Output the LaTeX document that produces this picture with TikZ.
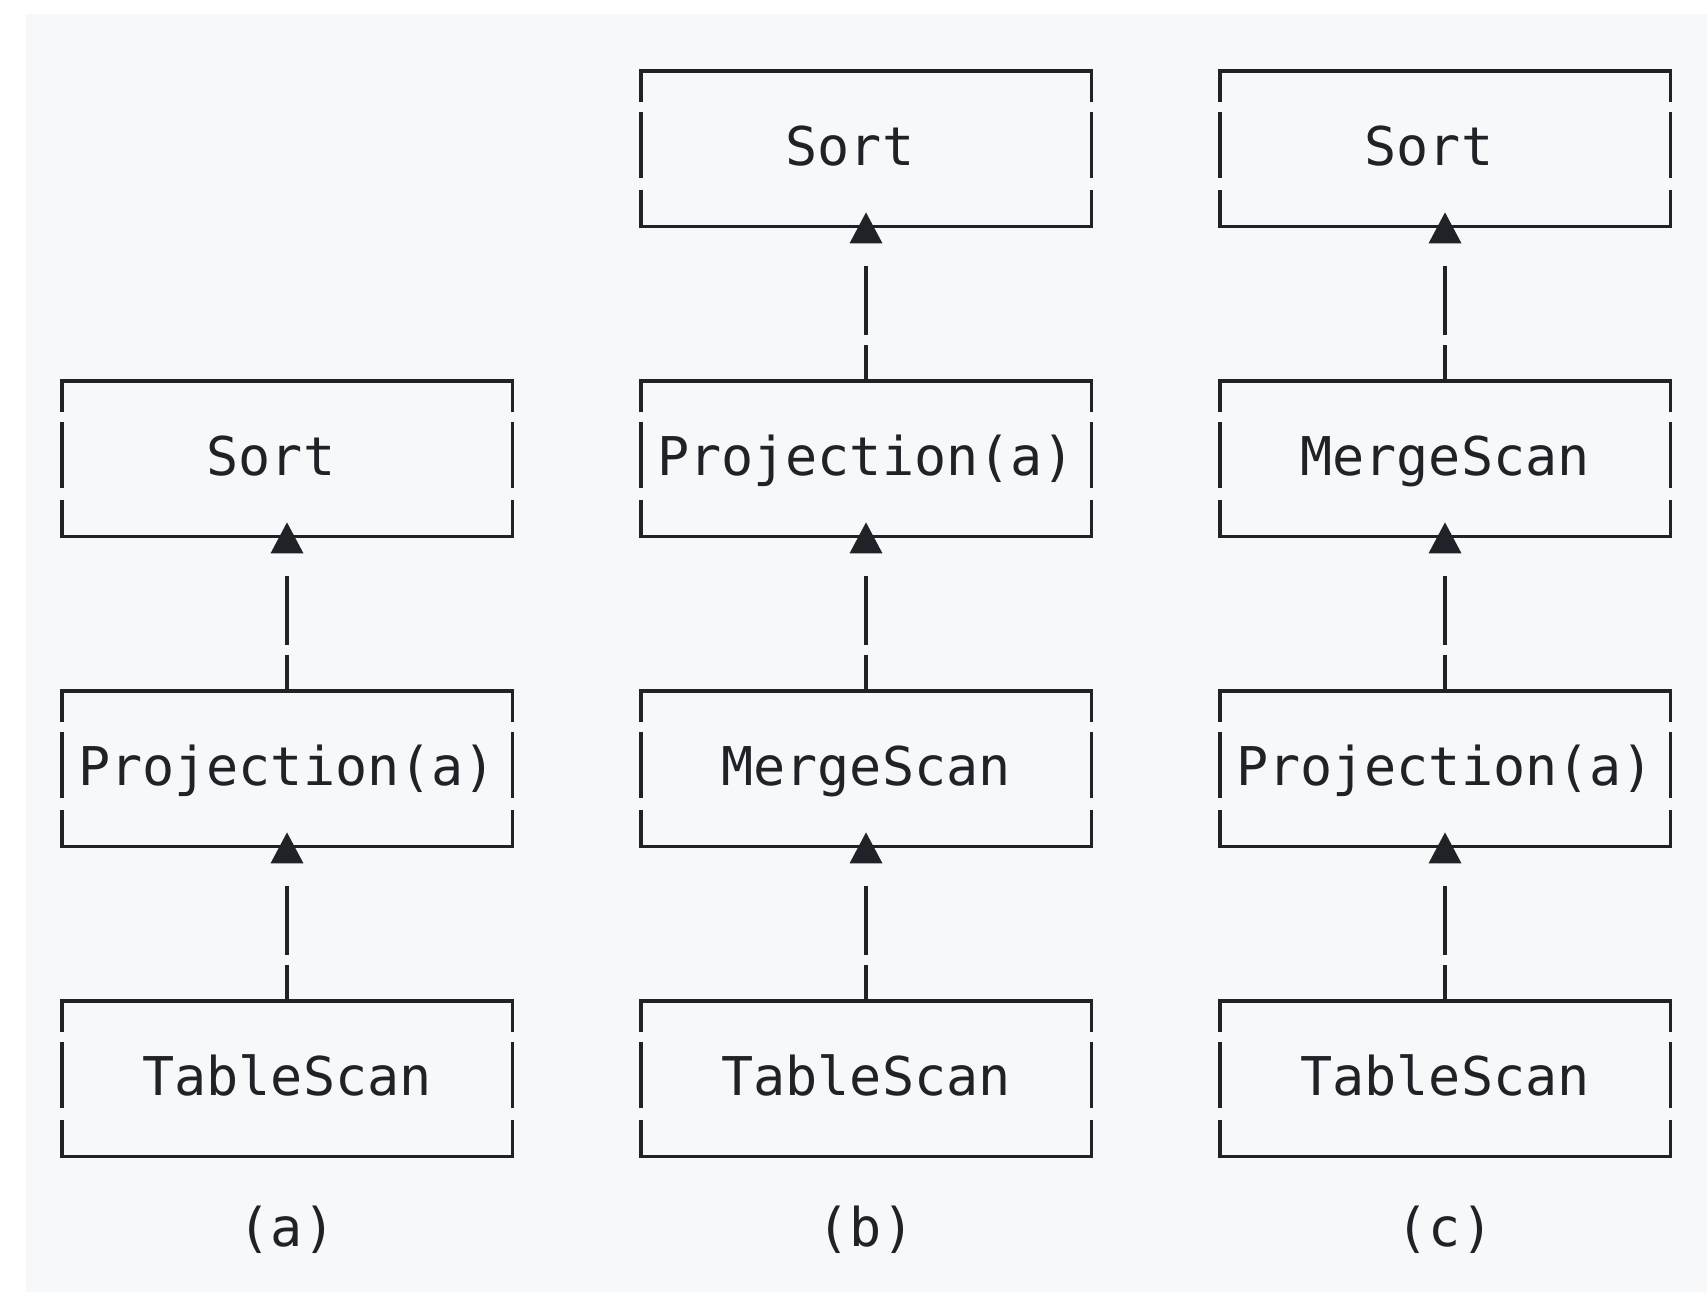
\documentclass[tikz,border=0pt]{standalone}
\usepackage{fontspec}
\setmonofont{DejaVu Sans Mono}
\usetikzlibrary{calc}
\definecolor{ink}{HTML}{1F2328}
\definecolor{bgc}{HTML}{F6F8FA}
\begin{document}
\begin{tikzpicture}[x=0.5pt,y=-0.5pt,
  op/.style={minimum width=225pt,minimum height=77.5pt,inner sep=0pt,
    text height=17pt,text depth=0pt,text=ink,
    font=\ttfamily\fontsize{26.7pt}{32pt}\selectfont},
  caption/.style={inner sep=0pt,anchor=base,text=ink,
    font=\ttfamily\fontsize{26.7pt}{32pt}\selectfont},
  hline/.style={draw=ink,line width=1.9pt,line cap=rect},
  vline/.style={draw=ink,line width=1.9pt,dash pattern=on 15.5pt off 5pt on 33pt off 6pt on 20pt},
  link/.style={draw=ink,line width=1.9pt,dash pattern=on 18pt off 5pt on 60pt},
  tip/.style={fill=ink}
]
\useasboundingbox (0,0) rectangle (1707,1292);
\fill[bgc] (26,14) rectangle (1707,1292);

% column (a)
\node[op] (aS) at (287,458.5) {Sort\hphantom{x}};
\node[op] (aP) at (287,768.5) {Projection(a)};
\node[op] (aT) at (287,1078.5) {TableScan};
\node[caption] (aL) at (287,1246) {(a)};
% column (b)
\node[op] (bS) at (866,148.5) {Sort\hphantom{x}};
\node[op] (bP) at (866,458.5) {Projection(a)};
\node[op] (bM) at (866,768.5) {MergeScan};
\node[op] (bT) at (866,1078.5) {TableScan};
\node[caption] (bL) at (866,1246) {(b)};
% column (c)
\node[op] (cS) at (1445,148.5) {Sort\hphantom{x}};
\node[op] (cM) at (1445,458.5) {MergeScan};
\node[op] (cP) at (1445,768.5) {Projection(a)};
\node[op] (cT) at (1445,1078.5) {TableScan};
\node[caption] (cL) at (1445,1246) {(c)};

\foreach \n in {aS,aP,aT,bS,bP,bM,bT,cS,cM,cP,cT}{
  \draw[hline] (\n.north west) -- (\n.north east);
  \draw[hline] (\n.south west) -- (\n.south east);
  \draw[vline] (\n.north west) -- (\n.south west);
  \draw[vline] (\n.north east) -- (\n.south east);
}

\foreach \lo/\up in {aP/aS,aT/aP,bP/bS,bM/bP,bT/bM,cM/cS,cP/cM,cT/cP}{
  \draw[link] (\lo.north) -- ($(\up.south)+(0,40)$);
  \fill[tip] ($(\up.south)+(0,-14)$) -- ++(-16.5,31) -- ++(33,0) -- cycle;
}
\end{tikzpicture}
\end{document}
